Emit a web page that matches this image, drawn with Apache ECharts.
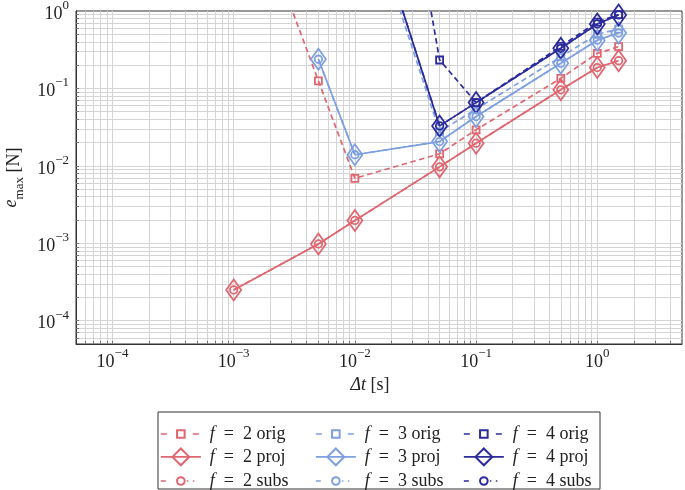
<!DOCTYPE html>
<html><head><meta charset="utf-8">
<script src="https://cdn.jsdelivr.net/npm/echarts@6/dist/echarts.min.js"></script>
<style>html,body{margin:0;padding:0;background:#fff}#c{width:685px;height:490px}</style>
</head><body><div id="c"></div>
<script>
// ---- data (time step dt [s], max error e_max [N]) ----
const dt = [0.001, 0.005, 0.01, 0.05, 0.1, 0.5, 1, 1.5];
const f2Orig = [110, 0.125, 0.0069, 0.0143, 0.0292, 0.135, 0.284, 0.346];
const f2Proj = [0.00025, 0.00098, 0.00197, 0.0097, 0.0196, 0.096, 0.186, 0.228];
const f2Subs = [0.00025, 0.00098, 0.00197, 0.0097, 0.0196, 0.096, 0.186, 0.228];
const f3Orig = [null, null, 62, 0.0277, 0.054, 0.255, 0.5, 0.585];
const f3Proj = [null, 0.238, 0.0139, 0.0206, 0.0433, 0.211, 0.42, 0.52];
const f3Subs = [null, 0.238, 0.0139, 0.0206, 0.0433, 0.211, 0.42, 0.52];
const f4Orig = [null, null, 4e5, 0.233, 0.0656, 0.35, 0.72, 0.9];
const f4Proj = [null, null, 85, 0.0328, 0.0656, 0.33, 0.68, 0.89];
const f4Subs = [null, null, 85, 0.0328, 0.0656, 0.33, 0.68, 0.89];
const xLabelExps = [-4, -3, -2, -1, 0];
const yLabelExps = [-4, -3, -2, -1, 0];
const seriesNames = ['f = 2 orig','f = 3 orig','f = 4 orig','f = 2 proj','f = 3 proj','f = 4 proj','f = 2 subs','f = 3 subs','f = 4 subs'];

const C2 = '#e06670', C3 = '#7ea0e0', C4 = '#2b2b9c';
const FONT = 'Liberation Serif';
const L = Math.log10;

const xMin = L(5e-5), xMax = L(5), yMin = L(5e-5), yMax = 0;
function gridVals(lo, hi) {
  const out = [];
  for (let n = -6; n <= 1; n++) for (let k = 1; k <= 9; k++) {
    const v = n + L(k);
    if (v > lo + 1e-6 && v < hi - 1e-6) out.push(v);
  }
  return out;
}
const sup = e => (e < 0 ? '\u2212' + (-e) : '' + e);
const tickRich = {
  b: {fontFamily: FONT, fontSize: 18, color: '#222', lineHeight: 24, verticalAlign: 'bottom'},
  s: {fontFamily: FONT, fontSize: 13, color: '#222', lineHeight: 12, verticalAlign: 'top'}
};
const labelFmt = v => '{b|10}{s|' + sup(Math.round(v)) + '}';

function mk(name, vals, color, kind) {
  const data = dt.map((x, i) => vals[i] == null ? null : [L(x), L(vals[i])]).filter(Boolean);
  const sym = kind === 'orig' ? 'rect' : kind === 'proj' ? 'diamond' : 'circle';
  const size = kind === 'orig' ? 7 : kind === 'proj' ? [15, 21] : 7.5;
  const dash = kind === 'orig' ? [5.5, 3.5] : kind === 'proj' ? 'solid' : [5.5, 3, 1.5, 3];
  return {
    name, type: 'line', data, symbol: sym, symbolSize: size, showSymbol: true, clip: true,
    lineStyle: {color, width: 1.7, type: dash},
    itemStyle: {color: 'rgba(255,255,255,0)', borderColor: color, borderWidth: 1.8},
    emphasis: {disabled: true}, animation: false
  };
}
const series = [
  mk(seriesNames[0], f2Orig, C2, 'orig'), mk(seriesNames[1], f3Orig, C3, 'orig'), mk(seriesNames[2], f4Orig, C4, 'orig'),
  mk(seriesNames[3], f2Proj, C2, 'proj'), mk(seriesNames[4], f3Proj, C3, 'proj'), mk(seriesNames[5], f4Proj, C4, 'proj'),
  mk(seriesNames[6], f2Subs, C2, 'subs'), mk(seriesNames[7], f3Subs, C3, 'subs'), mk(seriesNames[8], f4Subs, C4, 'subs')
];

const colX = [160, 315, 463];
const rowY = [432, 456, 479];
const rowOff = [7, 8.5, 7];
const legendDash = [[6, 26], 'solid', [5, 21, 1.5, 4.5, 1.5, 10]];
const legends = seriesNames.map((nm, i) => {
  const col = i % 3, row = Math.floor(i / 3);
  const h = row === 1 ? 21 : 9.5;
  return {
    data: [nm], left: colX[col], top: rowY[row] - rowOff[row], orient: 'horizontal',
    itemWidth: 40, itemHeight: h, padding: 0, itemGap: 0, selectedMode: false,
    lineStyle: {type: legendDash[row], width: 1.7},
    formatter: n => '{i|f}{t|\u2002=\u2002' + n.slice(4) + '}',
    textStyle: {
      fontFamily: FONT, fontSize: 18, color: '#222', padding: [0, 0, 0, 4],
      rich: {i: {fontFamily: FONT, fontStyle: 'italic', fontSize: 18, color: '#222'},
             t: {fontFamily: FONT, fontSize: 18, color: '#222'}}
    }
  };
});

const axisCommon = {
  type: 'value',
  axisLine: {show: true, onZero: false, lineStyle: {color: '#333', width: 1}},
  splitLine: {show: true, lineStyle: {color: '#d4d4d4', width: 1}},
  minorTick: {show: false}, minorSplitLine: {show: false}
};

const option = {
  animation: false,
  backgroundColor: '#fff',
  grid: {left: 76, right: 3, top: 11, bottom: 146, containLabel: false, outerBoundsMode: 'none',
    show: true, borderColor: '#333', borderWidth: 1, backgroundColor: 'rgba(0,0,0,0)'},
  xAxis: Object.assign({}, axisCommon, {
    min: xMin, max: xMax,
    axisTick: {show: true, inside: true, length: 3, lineStyle: {color: '#777'}, customValues: gridVals(xMin, xMax)},
    axisLabel: {customValues: xLabelExps, formatter: labelFmt, rich: tickRich, margin: 3, showMinLabel: true, showMaxLabel: true},
    name: '{i|\u0394t} [s]', nameLocation: 'middle', nameGap: 31,
    nameTextStyle: {fontFamily: FONT, fontSize: 18, color: '#222', padding: [0, 18, 0, 0],
      rich: {i: {fontFamily: FONT, fontStyle: 'italic', fontSize: 18, color: '#222'}}}
  }),
  yAxis: Object.assign({}, axisCommon, {
    min: yMin, max: yMax,
    axisTick: {show: true, inside: true, length: 3, lineStyle: {color: '#777'}, customValues: gridVals(yMin, yMax)},
    axisLabel: {customValues: yLabelExps, formatter: labelFmt, rich: tickRich, margin: 7, showMinLabel: true, showMaxLabel: true},
    name: '{i|e}{m|max} [N]', nameLocation: 'middle', nameGap: 50,
    nameTextStyle: {fontFamily: FONT, fontSize: 18, color: '#222',
      rich: {i: {fontFamily: FONT, fontStyle: 'italic', fontSize: 18, color: '#222', lineHeight: 24, verticalAlign: 'top'},
             m: {fontFamily: FONT, fontSize: 13, color: '#222', lineHeight: 12, verticalAlign: 'bottom'}}}
  }),
  legend: legends,
  graphic: [{type: 'rect', shape: {x: 158, y: 412, width: 442, height: 77}, style: {fill: 'none', stroke: '#333', lineWidth: 1}, silent: true, z: -1}],
  series
};
const chart = echarts.init(document.getElementById('c'), null, {renderer: 'canvas'});
chart.setOption(option);
</script>
</body></html>
